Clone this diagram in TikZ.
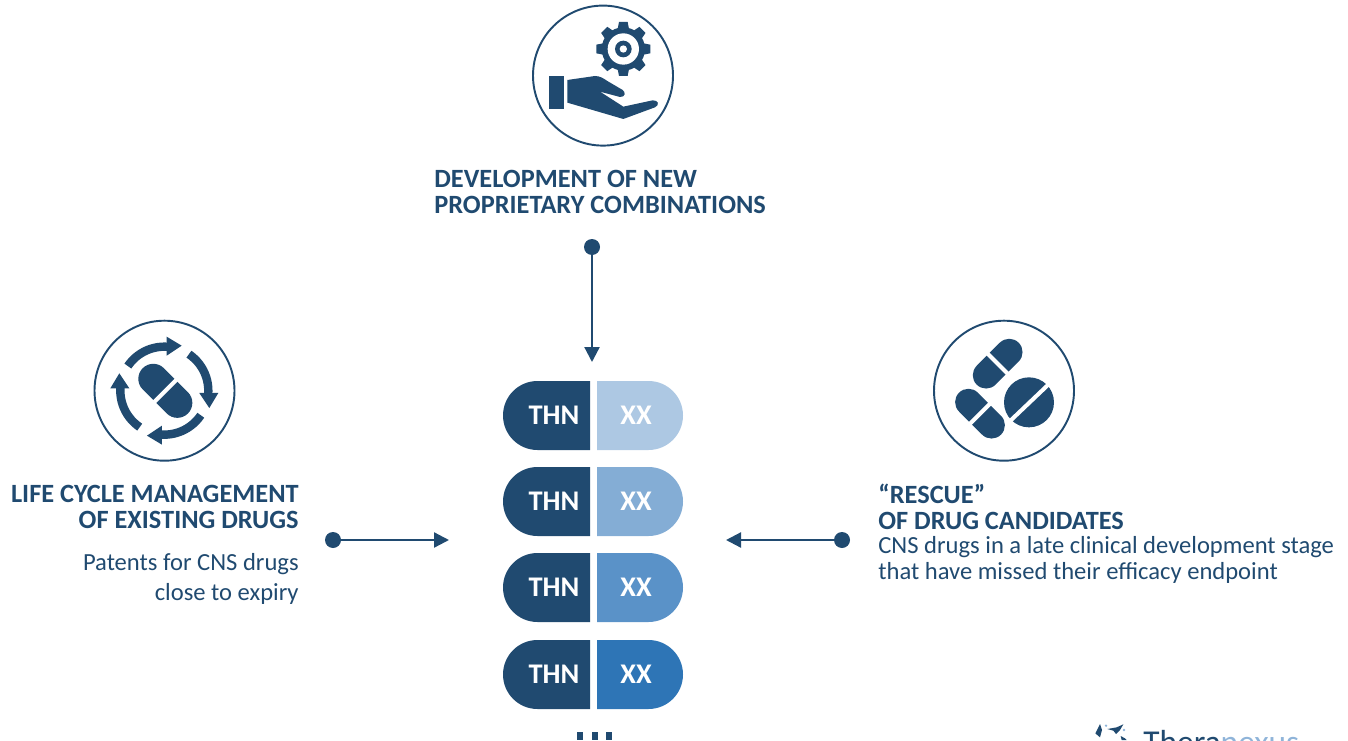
\documentclass[tikz,border=0pt]{standalone}
\usepackage{fontspec}
\setmainfont{Carlito}
\usetikzlibrary{arrows.meta}
\definecolor{navy}{HTML}{204A70}
\definecolor{xxa}{HTML}{ADC8E3}
\definecolor{xxb}{HTML}{84ADD5}
\definecolor{xxc}{HTML}{5A92C8}
\definecolor{xxd}{HTML}{2E75B6}
\definecolor{logoblue}{HTML}{8FB4D9}
\newcommand{\capsule}[6]{%
    \begin{scope}[shift={(#1,#2)},rotate=#3]
        \fill[navy,rounded corners=#6] (-#5,-#4) rectangle (#5,#4);
        \draw[white,line width=2.3pt] (0,-#4-4) -- (0,#4+4);
    \end{scope}}
\tikzset{
    ring/.style={draw=navy,line width=1.1pt,fill=white},
    title/.style={text=navy,font=\fontsize{15}{14.8}\selectfont\bfseries},
    body/.style={text=navy,font=\fontsize{14}{#1}\selectfont},
    body/.default=15.2,
    pilltext/.style={text=white,font=\fontsize{16.2}{17}\selectfont\bfseries},
    dotnode/.style={circle,fill=navy,inner sep=0pt,minimum size=0.32cm},
    flow/.style={draw=navy,line width=1.3pt,-{Triangle[length=0.3cm,width=0.3cm]}},
}
\begin{document}
\begin{tikzpicture}[x=0.02cm,y=-0.02cm]
    \useasboundingbox (0,0) rectangle (1348,740);
    \clip (0,0) rectangle (1348,740);
    % icon rings
    \draw[ring] (603,75.6) circle (70);
    \draw[ring] (164.5,390.7) circle (70);
    \draw[ring] (1004,390.7) circle (70);
    % hand and gear
    \begin{scope}[shift={(520,0)},scale=0.3333]
        \fill[navy] (87,227) rectangle (132,327);
        \fill[navy] (142,240) -- (225,228) .. controls (240,228) and (250,235) .. (262,243)
            -- (308,270) .. controls (318,277) and (316,292) .. (300,291) -- (240,275)
            -- (310,320) -- (398,301) .. controls (415,300) and (420,315) .. (405,322)
            -- (310,357) -- (142,308) -- cycle;
        \begin{scope}[shift={(310,147)}]
            \foreach \a in {0,45,...,315}
                \fill[navy,rotate=\a] (-13,-81) -- (13,-81) -- (18,-55) -- (-18,-55) -- cycle;
            \fill[navy] (0,0) circle (65);
            \fill[white] (0,0) circle (47);
            \fill[navy] (0,0) circle (25);
            \fill[white] (0,0) circle (11);
        \end{scope}
    \end{scope}
    % capsule with arrows
    \begin{scope}[shift={(85,315)},scale=0.3333]
        \capsule{241}{227.5}{-45}{45}{96}{0.3cm}
        \begin{scope}[shift={(238,227)}]
            \foreach \a in {0,90,180,270}{
                \begin{scope}[rotate=-\a]
                    \draw[navy,line width=4.8pt] plot[domain=-146:-85,samples=14,smooth] (\x:132);
                    \fill[navy] (7,-162) -- (52,-135) -- (7,-105) -- cycle;
                \end{scope}
            }
        \end{scope}
    \end{scope}
    % capsules and tablet
    \begin{scope}[shift={(925,315)},scale=0.3333]
        \capsule{218}{146}{45}{40}{89}{0.2667cm}
        \capsule{165}{296}{-45}{40}{89}{0.2667cm}
        \fill[navy] (312,262) circle (75);
        \draw[white,line width=2.3pt] (250,323) -- (374,205);
    \end{scope}
    % texts
    \node[title,anchor=west,align=left,inner sep=0pt] (topTitle) at (434,192)
        {DEVELOPMENT OF NEW\\PROPRIETARY COMBINATIONS};
    \node[title,anchor=east,align=right,inner sep=0pt] (leftTitle) at (299,507)
        {LIFE CYCLE MANAGEMENT\\OF EXISTING DRUGS};
    \node[body=17,anchor=east,align=right,inner sep=0pt] (leftBody) at (299,579)
        {Patents for CNS drugs\\close to expiry};
    \node[title,anchor=west,align=left,inner sep=0pt] (rightTitle) at (878,507)
        {``RESCUE''\\OF DRUG CANDIDATES};
    \node[body,anchor=west,align=left,inner sep=0pt] (rightBody) at (878,560)
        {CNS drugs in a late clinical development stage\\that have missed their efficacy endpoint};
    % pills
    \foreach \i/\t/\m/\b/\c in {1/381/415.5/450/xxa,2/467/501.5/536/xxb,3/553/587.5/622/xxc,4/640/674.5/709/xxd}{
        \fill[navy] (590,\t) [rounded corners=0.69cm] -- (503,\t) -- (503,\b) [sharp corners] -- (590,\b) -- cycle;
        \fill[\c] (597,\t) [rounded corners=0.69cm] -- (683,\t) -- (683,\b) [sharp corners] -- (597,\b) -- cycle;
        \node[pilltext] (thn\i) at (554,\m) {THN};
        \node[pilltext] (xx\i) at (636,\m) {XX};
    }
    % connectors
    \node[dotnode] (topDot) at (592,247) {};
    \coordinate (topEnd) at (592,362);
    \draw[flow] (topDot) -- (topEnd);
    \node[dotnode] (leftDot) at (333,540) {};
    \coordinate (leftEnd) at (449,540);
    \draw[flow] (leftDot) -- (leftEnd);
    \node[dotnode] (rightDot) at (842,540) {};
    \coordinate (rightEnd) at (726,540);
    \draw[flow] (rightDot) -- (rightEnd);
    % dots below the pills
    \foreach \x in {577,591.5,606}
        \fill[navy] (\x,732) rectangle ++(6,8);
    % logo
    \begin{scope}[shift={(1080,700)},scale=0.3333]
        \fill[navy] (60,72) -- (66,90) -- (60,112) -- (46,100) -- (52,88) -- cycle;
        \fill[navy] (82,87) -- (110,82) -- (130,73) -- (120,90) -- (108,102) -- (100,92) -- cycle;
        \fill[logoblue] (78,77) circle (4);
        \fill[logoblue] (132,90) circle (4);
        \fill[navy] (122,108) -- (135,115) -- (140,120) -- (125,120) -- cycle;
    \end{scope}
    \node[anchor=base west,inner sep=0pt,font=\fontsize{19}{20}\selectfont] (logoText) at (1143,753.5)
        {\textcolor{navy}{Thera}\textcolor{logoblue}{nexus}};
\end{tikzpicture}
\end{document}
